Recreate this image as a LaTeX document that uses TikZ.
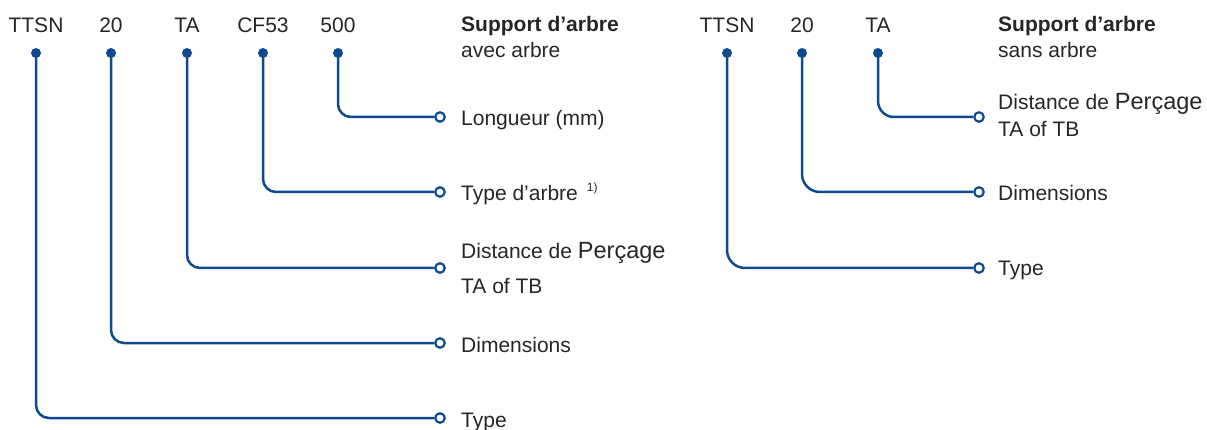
\documentclass[tikz,border=0pt]{standalone}
\usepackage{fontspec}
\setmainfont{Liberation Sans}
\usetikzlibrary{backgrounds}
\definecolor{leadblue}{RGB}{14,74,143}
\definecolor{txtgray}{RGB}{38,38,38}
\newcommand{\bigword}[1]{{\fontsize{23.5}{25}\selectfont #1}}

\begin{document}
\begin{tikzpicture}[x=1pt,y=-1pt,
    lead/.style={draw=leadblue,line width=2.5pt},
    pin/.style={circle,fill=leadblue,inner sep=0pt,minimum size=10pt},
    tip/.style={circle,draw=leadblue,fill=white,line width=2.2pt,inner sep=0pt,minimum size=9.5pt},
    code/.style={anchor=base,text=txtgray,font=\fontsize{21}{25}\selectfont,inner sep=0pt},
    lbl/.style={anchor=base west,text=txtgray,font=\fontsize{21}{25}\selectfont,inner sep=0pt}]
  \useasboundingbox (0,0) rectangle (1207,430);

  % avec arbre
  \node[code] (cTtsn) at (36,33) {TTSN};
  \node[code] (cSize) at (111,33) {20};
  \node[code] (cHole) at (187,33) {TA};
  \node[code] (cShaft) at (263,33) {CF53};
  \node[code] (cLen) at (338,33) {500};
  \node[lbl] (hAvec) at (461,32) {\bfseries Support d’arbre};
  \node[lbl] (sAvec) at (461,58) {avec arbre};

  \node[pin] (pTtsn) at (36,53) {};
  \node[pin] (pSize) at (111,53) {};
  \node[pin] (pHole) at (187,53) {};
  \node[pin] (pShaft) at (263,53) {};
  \node[pin] (pLen) at (338,53) {};
  \node[tip] (tTtsn) at (440,418) {};
  \node[tip] (tSize) at (440,343) {};
  \node[tip] (tHole) at (440,268) {};
  \node[tip] (tShaft) at (440,192) {};
  \node[tip] (tLen) at (440,117) {};

  \node[lbl] (lLen) at (461,126) {Longueur (mm)};
  \node[lbl] (lShaft) at (461,201) {Type d’arbre\hspace{9pt}{\fontsize{12}{12}\selectfont\raisebox{9pt}{1)}}};
  \node[lbl] (lHole) at (461,259) {Distance de \bigword{Perçage}};
  \node[lbl] (lHoleb) at (461,294) {TA of TB};
  \node[lbl] (lSize) at (461,352) {Dimensions};
  \node[lbl] (lTtsn) at (461,427) {Type};

  % sans arbre
  \node[code] (rTtsn) at (727,33) {TTSN};
  \node[code] (rSize) at (802,33) {20};
  \node[code] (rHole) at (878,33) {TA};
  \node[lbl] (hSans) at (998,32) {\bfseries Support d’arbre};
  \node[lbl] (sSans) at (998,58) {sans arbre};

  \node[pin] (qTtsn) at (727,53) {};
  \node[pin] (qSize) at (802,53) {};
  \node[pin] (qHole) at (878,53) {};
  \node[tip] (uTtsn) at (979,268) {};
  \node[tip] (uSize) at (979,192) {};
  \node[tip] (uHole) at (979,117) {};

  \node[lbl] (mHole) at (998,110) {Distance de \bigword{Perçage}};
  \node[lbl] (mHoleb) at (998,137) {TA of TB};
  \node[lbl] (mSize) at (998,201) {Dimensions};
  \node[lbl] (mTtsn) at (998,276) {Type};

  % leads
  \begin{scope}[on background layer]
    \draw[lead,rounded corners=13pt] (pTtsn.center) |- (tTtsn.west);
    \draw[lead,rounded corners=13pt] (pSize.center) |- (tSize.west);
    \draw[lead,rounded corners=13pt] (pHole.center) |- (tHole.west);
    \draw[lead,rounded corners=13pt] (pShaft.center) |- (tShaft.west);
    \draw[lead,rounded corners=13pt] (pLen.center) |- (tLen.west);
    \draw[lead,rounded corners=18pt] (qTtsn.center) |- (uTtsn.west);
    \draw[lead,rounded corners=18pt] (qSize.center) |- (uSize.west);
    \draw[lead,rounded corners=16pt] (qHole.center) |- (uHole.west);
  \end{scope}
\end{tikzpicture}
\end{document}
